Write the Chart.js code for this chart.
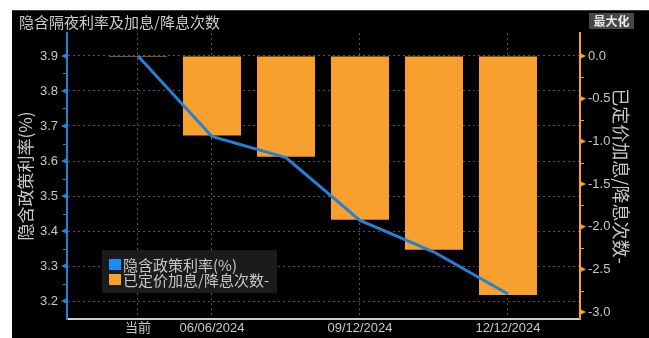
<!DOCTYPE html>
<html lang="zh-CN">
<head>
<meta charset="UTF-8">
<title>隐含隔夜利率及加息/降息次数</title>
<script src="https://cdn.jsdelivr.net/npm/chart.js"></script>
<style>
  body { margin: 0; background: #fff; }
  #painel { position: absolute; left: 12px; top: 10px; width: 637px; height: 328px; background: #000; overflow: hidden; }
  #linha { position: absolute; left: 0; top: 0; width: 100%; height: 1px; background: #3a3a3a; }
  #titulo { position: absolute; left: 7px; top: 2px; line-height: 19px; color: #cdcdcd; font-size: 15px; font-family: 'Noto Sans CJK SC', sans-serif; }
  #max { position: absolute; left: 577px; top: 3px; width: 45px; height: 16px; background: #474747; color: #e8e8e8; font: bold 12px 'Noto Sans CJK SC', sans-serif; text-align: center; line-height: 16px; }
  #wrap { position: absolute; left: 0; top: 0; width: 637px; height: 328px; }
</style>
</head>
<body>
<div id="painel">
  <div id="wrap"><canvas id="grafico"></canvas></div>
  <div id="linha"></div>
  <div id="titulo">隐含隔夜利率及加息/降息次数</div>
  <div id="max">最大化</div>
</div>

<script>
  // meeting dates (first point is today)
  const categories = ['当前', '06/06/2024', '07/18/2024', '09/12/2024', '10/17/2024', '12/12/2024'];
  const shownTicks = [0, 1, 3, 5];

  // implied policy rate (%)
  const rates = [3.90, 3.67, 3.61, 3.43, 3.34, 3.22];
  // priced-in hikes / cuts
  const moves = [-0.01, -0.93, -1.18, -1.92, -2.27, -2.80];

  const rateTicks = [3.2, 3.3, 3.4, 3.5, 3.6, 3.7, 3.8, 3.9];
  const moveTicks = [0, -0.5, -1.0, -1.5, -2.0, -2.5, -3.0];

  const rateColor = '#2580d8';
  const rateLegend = '#1a8cff';
  const moveColor = '#f7a02d';
  const textColor = '#c8c8c8';
  const tickFont = { family: "'Liberation Sans', 'Noto Sans CJK SC', sans-serif", size: 13 };
  const cjkFont = "'Noto Sans CJK SC', sans-serif";

  // wedge marks for major ticks and short marks in between
  function drawMarks(ctx, scale, x, dir, color) {
    const vals = scale.ticks.map(t => t.value).sort((a, b) => a - b);
    ctx.save();
    ctx.fillStyle = color;
    ctx.strokeStyle = color;
    ctx.lineWidth = 1;
    vals.forEach((v, i) => {
      const y = scale.getPixelForValue(v);
      ctx.beginPath();
      ctx.moveTo(x, y - 3);
      ctx.lineTo(x + dir * 6, y);
      ctx.lineTo(x, y + 3);
      ctx.closePath();
      ctx.fill();
      if (i < vals.length - 1) {
        const ym = Math.round(scale.getPixelForValue((v + vals[i + 1]) / 2)) + 0.5;
        ctx.beginPath();
        ctx.moveTo(x, ym);
        ctx.lineTo(x + dir * 4, ym);
        ctx.stroke();
      }
    });
    ctx.restore();
  }

  const axisMarks = {
    id: 'axisMarks',
    afterDraw(chart) {
      const yl = chart.scales.y, yr = chart.scales.y1;
      drawMarks(chart.ctx, yl, yl.right, -1, rateColor);
      drawMarks(chart.ctx, yr, yr.left, 1, moveColor);
    }
  };

  // legend box inside the plot, bottom left
  const legendBox = {
    id: 'legendBox',
    afterDraw(chart) {
      const ctx = chart.ctx, a = chart.chartArea;
      const x = a.left + 35, y = a.bottom - 69;
      ctx.save();
      ctx.fillStyle = '#1b1b1b';
      ctx.fillRect(x, y, 175, 43);
      ctx.font = '15px ' + cjkFont;
      ctx.textBaseline = 'middle';
      chart.data.datasets.forEach((ds, i) => {
        const ry = y + 9 + i * 15;
        ctx.fillStyle = ds.legendColor;
        ctx.fillRect(x + 7, ry, 12, 11);
        ctx.fillStyle = textColor;
        ctx.fillText(ds.label, x + 21, ry + 6);
      });
      ctx.restore();
    }
  };

  new Chart(document.getElementById('grafico'), {
    type: 'bar',
    data: {
      datasets: [{
        type: 'line',
        label: '隐含政策利率(%)',
        data: rates.map((v, i) => ({ x: i, y: v })),
        yAxisID: 'y',
        borderColor: rateColor,
        legendColor: rateLegend,
        borderWidth: 3,
        pointRadius: 0,
        tension: 0,
        order: 0
      }, {
        type: 'bar',
        label: '已定价加息/降息次数-',
        data: moves.map((v, i) => ({ x: i, y: v })),
        yAxisID: 'y1',
        backgroundColor: moveColor,
        legendColor: moveColor,
        categoryPercentage: 1,
        barPercentage: 0.784,
        order: 1
      }]
    },
    options: {
      responsive: true,
      maintainAspectRatio: false,
      animation: false,
      layout: { padding: { top: 23, left: 0, right: 0, bottom: 0 } },
      plugins: { legend: { display: false }, tooltip: { enabled: false } },
      scales: {
        x: {
          type: 'linear',
          min: -0.959,
          max: 5.973,
          offset: false,
          afterBuildTicks: s => { s.ticks = shownTicks.map(v => ({ value: v })); },
          afterFit: s => { s.height = 19; },
          ticks: {
            autoSkip: false, maxRotation: 0, padding: 2,
            color: textColor, font: tickFont,
            callback: v => categories[v]
          },
          grid: { offset: false, color: '#555', drawTicks: false },
          border: { color: '#cfcfcf', width: 2, dash: [2, 3] }
        },
        y: {
          position: 'left',
          min: 3.1486,
          max: 3.9657,
          afterBuildTicks: s => { s.ticks = rateTicks.map(v => ({ value: v })); },
          afterFit: s => { s.width = 55; },
          ticks: { padding: 9, color: textColor, font: tickFont, callback: v => v.toFixed(1) },
          grid: { color: '#555', drawTicks: false },
          border: { color: rateColor, width: 2, dash: [2, 3] },
          title: {
            display: true, text: '隐含政策利率(%)', color: textColor,
            font: { family: cjkFont, size: 17 }, padding: { top: 3, bottom: 0 }
          }
        },
        y1: {
          position: 'right',
          min: -3.082,
          max: 0.27,
          afterBuildTicks: s => { s.ticks = moveTicks.map(v => ({ value: v })); },
          afterFit: s => { s.width = 69; },
          ticks: { padding: 8, color: textColor, font: tickFont, callback: v => v.toFixed(1) },
          grid: { drawOnChartArea: false, drawTicks: false },
          border: { color: moveColor, width: 2 },
          title: {
            display: true, text: '已定价加息/降息次数-', color: textColor,
            font: { family: cjkFont, size: 18 }, padding: { top: 17, bottom: 0 }
          }
        }
      }
    },
    plugins: [axisMarks, legendBox]
  });
</script>
</body>
</html>
